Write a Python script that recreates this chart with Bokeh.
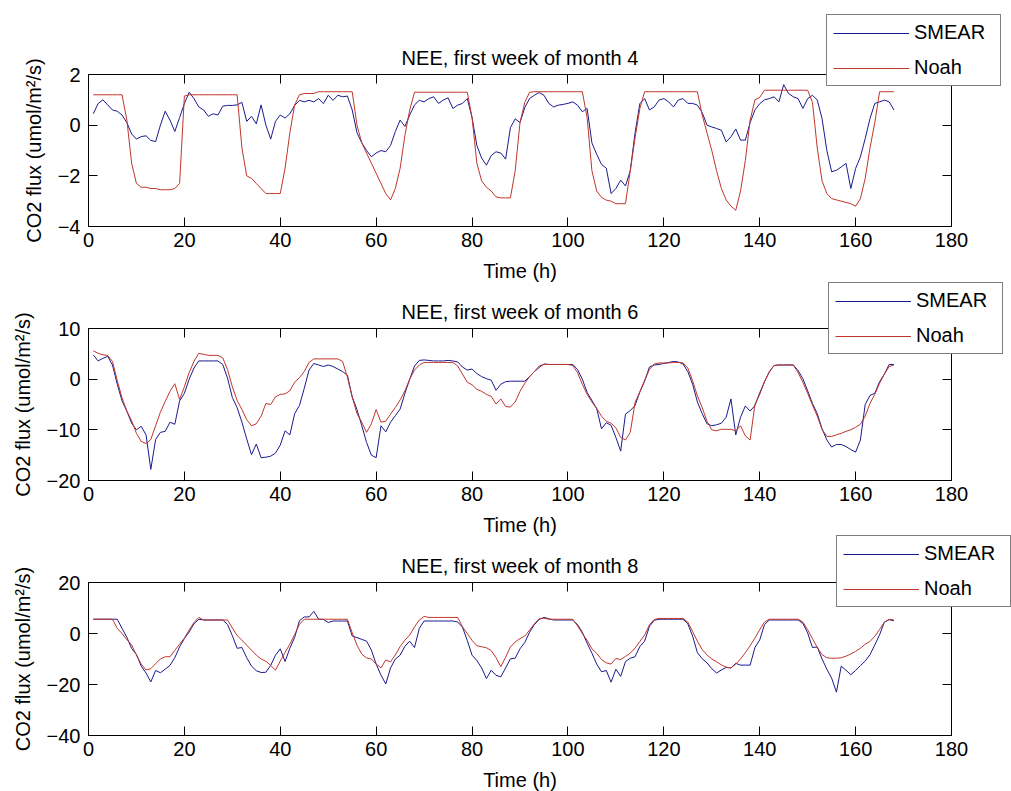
from bokeh.plotting import figure
from bokeh.models import (LinearAxis, Range1d, Legend, LegendItem, FixedTicker,
                          CustomJSTickFormatter)
from bokeh.layouts import column
from bokeh.embed import file_html
from bokeh.resources import INLINE

# ---------------- data ----------------
hours = list(range(1, 169))

smear_m4 = [
    0.45, 0.85, 1.0, 0.8, 0.6, 0.55, 0.4, 0.1, -0.35, -0.55,
    -0.45, -0.42, -0.6, -0.65, 0.0, 0.55, 0.2, -0.25, 0.3, 0.85,
    1.3, 1.05, 0.72, 0.6, 0.35, 0.45, 0.4, 0.75, 0.78, 0.78,
    0.8, 0.9, 0.15, 0.35, 0.05, 0.8, 0.0, -0.55, 0.15, 0.4,
    0.28, 0.45, 0.78, 0.98, 0.92, 0.98, 0.92, 1.05, 0.85, 1.18,
    0.98, 1.18, 1.12, 1.15, 0.6, -0.3, -0.7, -1.0, -1.25, -1.1,
    -1.0, -1.05, -0.8, -0.25, 0.2, -0.05, 0.4, 0.8, 0.98, 0.92,
    1.05, 1.12, 0.86, 0.99, 1.08, 0.66, 0.79, 0.86, 1.05, 0.3,
    -0.8, -1.3, -1.58, -1.2, -1.05, -1.1, -1.34, -0.1, 0.25, 0.1,
    0.7, 1.05, 1.18, 1.29, 1.18, 0.86, 0.72, 0.79, 0.82, 0.86,
    0.92, 0.79, 0.53, 0.66, -0.7, -1.15, -1.55, -1.7, -2.7, -2.5,
    -2.17, -2.4, -1.8, -0.3, 0.85, 1.05, 0.6, 0.72, 0.99, 1.05,
    0.92, 0.72, 0.99, 1.05, 0.86, 0.86, 0.79, 0.5, 0.0, -0.07,
    -0.13, -0.2, -0.66, -0.46, -0.15, -0.59, -0.59, 0.1, 0.6, 0.85,
    1.0, 1.05, 1.12, 0.92, 1.6, 1.25, 1.12, 1.05, 0.66, 1.05,
    1.18, 0.99, 0.26, -1.0, -1.84, -1.78, -1.65, -1.51, -2.5, -1.71,
    -1.25, -0.53, 0.26, 0.86, 0.92, 0.99, 0.92, 0.6,
]
noah_m4 = [
    1.2, 1.2, 1.2, 1.2, 1.2, 1.2, 1.2, 0.2, -1.5, -2.3,
    -2.45, -2.45, -2.5, -2.5, -2.55, -2.55, -2.55, -2.5, -2.3, 1.15,
    1.2, 1.2, 1.2, 1.2, 1.2, 1.2, 1.2, 1.2, 1.2, 1.2,
    1.2, -0.9, -2.0, -2.1, -2.3, -2.5, -2.7, -2.7, -2.7, -2.7,
    -1.7, -0.3, 0.8, 1.2, 1.25, 1.25, 1.25, 1.32, 1.32, 1.32,
    1.32, 1.32, 1.32, 1.32, 1.32, 0.0, -0.7, -1.1, -1.5, -1.9,
    -2.3, -2.7, -2.95, -2.5, -1.7, -0.4, 0.6, 1.3, 1.3, 1.3,
    1.3, 1.3, 1.3, 1.3, 1.3, 1.3, 1.3, 1.3, 1.3, 0.3,
    -1.5, -2.2, -2.45, -2.6, -2.83, -2.87, -2.87, -2.87, -1.8, 0.1,
    0.9, 1.3, 1.32, 1.32, 1.32, 1.32, 1.32, 1.32, 1.32, 1.32,
    1.32, 1.32, 1.32, 0.3, -1.8, -2.6, -2.85, -2.96, -3.0, -3.1,
    -3.1, -3.1, -1.8, -0.5, 0.66, 1.32, 1.32, 1.32, 1.32, 1.32,
    1.32, 1.32, 1.32, 1.32, 1.32, 1.32, 1.32, 0.4, -0.3, -1.0,
    -1.8, -2.5, -2.95, -3.2, -3.36, -2.6, -1.4, 0.2, 1.0, 1.1,
    1.38, 1.38, 1.38, 1.38, 1.38, 1.38, 1.38, 1.38, 1.38, 1.38,
    0.9, -0.9, -2.2, -2.7, -2.9, -2.95, -3.0, -3.05, -3.1, -3.2,
    -2.9, -2.1, -0.9, 0.1, 1.32, 1.32, 1.32, 1.32,
]

smear_m6 = [
    4.8, 3.6, 4.1, 4.5, 2.8, -1.0, -4.3, -6.3, -8.7, -10.0,
    -9.3, -11.0, -17.8, -11.9, -10.5, -10.3, -8.5, -8.9, -4.3, -2.8,
    0.0, 2.2, 3.6, 3.6, 3.6, 3.6, 3.6, 2.9, 0.2, -3.6,
    -5.6, -8.5, -11.8, -14.9, -12.8, -15.5, -15.4, -15.2, -14.6, -13.0,
    -10.2, -11.0, -6.8, -5.2, -1.8, 1.8, 3.1, 2.8, 2.5, 2.8,
    2.5, 2.0, 1.5, 0.8, -3.5, -6.0, -9.2, -12.5, -15.0, -15.5,
    -9.2, -10.4, -8.5, -7.2, -5.9, -2.8, 0.0, 2.6, 3.7, 3.8,
    3.7, 3.6, 3.6, 3.6, 3.7, 3.6, 3.4, 2.4, 1.8, 2.0,
    1.1, 0.5, 0.1, -0.2, -2.2, -1.0, -0.5, -0.4, -0.4, -0.4,
    -0.4, 0.5, 1.5, 2.3, 3.0, 2.9, 2.9, 2.9, 2.9, 2.9,
    2.9, 1.9, 0.0, -2.6, -4.2, -5.8, -9.8, -8.6, -9.1, -11.5,
    -14.2, -6.9, -6.2, -5.2, -2.5, -0.4, 2.4, 2.8, 2.9, 3.1,
    3.3, 3.5, 3.4, 3.0, 1.5, -1.0, -4.5, -6.8, -8.8, -9.2,
    -9.0, -8.7, -7.5, -3.9, -11.0, -7.5, -5.3, -6.3, -5.2, -2.7,
    -0.5, 1.4, 2.7, 2.8, 2.8, 2.8, 2.8, 1.7, 0.1, -2.3,
    -4.8, -6.8, -9.8, -12.0, -13.4, -12.9, -12.9, -13.3, -13.9, -14.4,
    -12.0, -5.0, -3.2, -2.8, -0.5, 1.0, 2.9, 2.9,
]
noah_m6 = [
    5.6, 5.1, 4.8, 4.7, 3.5, -0.3, -3.7, -6.3, -8.2, -10.7,
    -12.3, -12.7, -11.9, -9.2, -6.5, -4.4, -2.4, -0.9, -4.0, -1.5,
    1.3, 3.5, 5.1, 4.9, 4.7, 4.7, 4.7, 4.2, 1.9, -1.5,
    -4.2, -6.0, -8.0, -9.2, -8.8, -7.3, -4.8, -5.0, -3.5, -3.0,
    -2.9, -2.3, -0.6, 0.3, 1.5, 3.3, 4.0, 4.0, 4.0, 4.0,
    4.0, 4.0, 3.5, 0.4, -3.5, -6.8, -8.5, -10.5, -8.8, -6.0,
    -8.5, -8.3, -6.9, -5.6, -4.1, -2.3, 0.0, 1.8, 2.8, 3.3,
    3.3, 3.3, 3.3, 3.3, 3.3, 3.3, 2.6, 1.0, -0.6, -1.1,
    -2.0, -2.4, -3.0, -3.4, -4.9, -3.9, -5.4, -5.5, -4.5, -2.4,
    -0.8, 0.5, 1.5, 2.6, 2.9, 2.9, 2.9, 2.9, 2.9, 2.9,
    2.7, 1.3, -1.0, -3.0, -4.5, -5.8, -7.3, -8.3, -8.7, -9.6,
    -11.5, -12.0, -10.5, -4.6, -2.5, -0.2, 1.9, 3.0, 3.2, 3.2,
    3.2, 3.3, 3.3, 3.2, 2.2, -0.3, -3.3, -5.6, -8.3, -10.0,
    -10.2, -9.9, -9.9, -9.9, -10.2, -9.2, -11.2, -12.0, -5.0, -3.0,
    -0.5, 1.5, 2.7, 2.8, 2.8, 2.8, 2.8, 1.3, -0.6, -2.8,
    -5.1, -7.3, -9.9, -11.3, -11.3, -11.0, -10.7, -10.3, -10.0, -9.5,
    -8.9, -7.3, -4.8, -3.0, -0.8, 1.0, 2.5, 2.8,
]

smear_m8 = [
    5.6, 5.6, 5.6, 5.6, 5.6, 5.6, 2.0, -1.5, -5.9, -8.2,
    -12.8, -15.5, -19.0, -14.5, -15.4, -14.0, -12.5, -9.5, -5.2, -2.0,
    0.6, 3.8, 5.6, 5.3, 5.3, 5.3, 5.3, 5.3, 3.5, -0.8,
    -5.8, -5.5, -9.5, -12.8, -14.6, -15.3, -15.2, -12.5, -8.5, -6.0,
    -11.0, -5.8, -1.5, 5.0, 6.5, 6.5, 8.7, 5.6, 5.5, 4.3,
    4.9, 4.9, 4.9, 4.9, -1.0, -1.6, -2.3, -3.0, -6.5, -12.0,
    -16.3, -19.8, -13.5, -10.0, -8.5, -5.0, -3.0, -5.5, 2.0, 4.9,
    4.9, 4.9, 4.9, 4.9, 4.9, 4.9, 4.5, 2.5, -2.7, -8.5,
    -10.6, -13.5, -17.7, -14.4, -16.4, -17.0, -13.5, -9.9, -9.7, -6.0,
    -3.5, 0.5, 3.5, 5.5, 6.3, 5.8, 5.3, 5.3, 5.3, 5.3,
    5.3, 3.5, 0.5, -3.8, -7.7, -12.0, -15.0, -14.5, -19.1, -14.0,
    -16.8, -11.0, -9.7, -9.1, -5.1, -3.0, 2.8, 5.2, 5.6, 5.6,
    5.6, 5.6, 5.6, 5.6, 3.8, -1.0, -7.5, -9.9, -11.5, -13.8,
    -15.5, -14.3, -13.3, -13.5, -11.7, -12.4, -12.4, -12.4, -5.5, -2.5,
    3.5, 5.3, 5.3, 5.3, 5.3, 5.3, 5.3, 5.3, 4.0, 0.2,
    -5.5, -5.3, -10.0, -14.0, -17.5, -23.0, -12.8, -14.4, -16.2, -14.5,
    -12.6, -10.8, -8.3, -4.5, -0.5, 4.5, 5.4, 5.0,
]
noah_m8 = [
    5.6, 5.6, 5.6, 5.6, 5.6, 2.0, 0.0, -2.4, -4.5, -8.5,
    -12.0, -14.3, -13.8, -11.8, -10.0, -9.1, -9.1, -6.6, -4.2, -1.8,
    1.4, 4.3, 6.3, 5.3, 5.3, 5.3, 5.3, 5.3, 5.3, 2.2,
    -0.8, -2.6, -4.6, -6.5, -8.5, -10.0, -10.9, -12.5, -14.4, -10.8,
    -7.4, -4.2, -0.4, 3.6, 5.6, 5.6, 5.6, 5.6, 5.6, 5.6,
    5.6, 5.6, 5.6, 5.6, 0.3, -4.6, -8.1, -9.6, -10.0, -12.0,
    -13.5, -10.4, -11.1, -8.4, -5.1, -2.6, -0.6, 2.6, 5.3, 6.7,
    6.3, 6.3, 6.3, 6.3, 6.3, 6.3, 6.3, 2.6, 0.0, -2.7,
    -4.8, -5.2, -5.6, -6.7, -9.5, -13.0, -9.3, -5.3, -3.3, -2.0,
    -1.0, 1.3, 3.8, 5.8, 6.0, 5.6, 5.6, 5.6, 5.6, 5.6,
    5.6, 3.0, 0.0, -2.7, -6.0, -7.8, -10.2, -11.5, -12.0, -9.8,
    -10.2, -9.0, -7.7, -5.7, -3.1, -0.6, 3.4, 5.5, 5.9, 5.9,
    5.9, 5.9, 5.9, 5.9, 4.5, 0.8, -3.0, -6.3, -8.4, -10.0,
    -11.1, -12.3, -13.2, -13.5, -12.0, -10.0, -7.5, -4.8, -1.8, 1.5,
    4.5, 5.6, 5.6, 5.6, 5.6, 5.6, 5.6, 5.6, 4.5, 1.5,
    -2.0, -5.5, -8.3, -9.5, -9.7, -9.7, -9.5, -8.9, -8.0, -7.0,
    -5.8, -4.2, -3.1, -1.1, 1.6, 4.4, 5.6, 5.3,
]

titles = ["NEE, first week of month 4", "NEE, first week of month 6",
          "NEE, first week of month 8"]
series_names = ["SMEAR", "Noah"]
x_label = "Time (h)"
y_label = "CO2 flux (umol/m\u00b2/s)"
x_ticks = [0, 20, 40, 60, 80, 100, 120, 140, 160, 180]
y_limits = [(-4, 2), (-20, 10), (-40, 20)]
y_ticks = [[-4, -2, 0, 2], [-20, -10, 0, 10], [-40, -20, 0, 20]]

# ---------------- style ----------------
FONT = "Liberation Sans"
FS = "20px"
BLUE = "#1a1a8e"
RED = "#c0362c"


def blank_axis(ticks):
    ax = LinearAxis(ticker=FixedTicker(ticks=ticks),
                    formatter=CustomJSTickFormatter(code="return ''"))
    ax.major_label_text_font_size = "1px"
    ax.major_label_standoff = 0
    ax.major_tick_in = 9
    ax.major_tick_out = 0
    ax.minor_tick_line_color = None
    ax.axis_line_color = "black"
    ax.major_tick_line_color = "black"
    return ax


def panel(i, smear, noah, top_b, bottom_b, frame_h, leg_xy):
    p = figure(frame_width=863, frame_height=frame_h,
               x_range=Range1d(0, 180), y_range=Range1d(*y_limits[i]),
               output_backend="svg", toolbar_location=None,
               min_border_left=88, min_border_right=60,
               min_border_top=top_b, min_border_bottom=bottom_b,
               title=titles[i])
    p.title.align = "center"
    p.title.text_font = FONT
    p.title.text_font_size = FS
    p.title.text_font_style = "normal"
    p.title.text_color = "black"
    p.title.standoff = 12
    p.xgrid.visible = False
    p.ygrid.visible = False
    p.outline_line_color = "black"
    p.background_fill_color = "white"
    p.border_fill_color = "white"

    for ax, ticks in ((p.xaxis[0], x_ticks), (p.yaxis[0], y_ticks[i])):
        ax.ticker = FixedTicker(ticks=ticks)
        ax.major_tick_in = 9
        ax.major_tick_out = 0
        ax.minor_tick_line_color = None
        ax.axis_line_color = "black"
        ax.major_tick_line_color = "black"
        ax.major_label_text_font = FONT
        ax.major_label_text_font_size = FS
        ax.major_label_text_color = "black"
        ax.axis_label_text_font = FONT
        ax.axis_label_text_font_size = FS
        ax.axis_label_text_font_style = "normal"
        ax.axis_label_text_color = "black"
    p.xaxis[0].axis_label = x_label
    p.xaxis[0].major_label_standoff = 6
    p.xaxis[0].axis_label_standoff = 10
    p.yaxis[0].axis_label = y_label
    p.yaxis[0].major_label_standoff = 8
    p.yaxis[0].axis_label_standoff = 10

    p.add_layout(blank_axis(x_ticks), "above")
    p.add_layout(blank_axis(y_ticks[i]), "right")

    r1 = p.line(hours, smear, line_color=BLUE, line_width=1)
    r2 = p.line(hours, noah, line_color=RED, line_width=1)
    leg = Legend(items=[LegendItem(label=series_names[0], renderers=[r1]),
                        LegendItem(label=series_names[1], renderers=[r2])],
                 location=leg_xy)
    leg.label_text_font = FONT
    leg.label_text_font_size = FS
    leg.label_text_color = "black"
    leg.border_line_color = "black"
    leg.border_line_width = 1
    leg.background_fill_color = "white"
    leg.background_fill_alpha = 1.0
    leg.padding = 6
    leg.margin = -80
    leg.spacing = 12
    leg.glyph_width = 76
    leg.glyph_height = 20
    leg.label_height = 20
    leg.label_width = 80
    leg.label_standoff = 5
    # side panel (not clipped to the frame); negative margin keeps it from
    # widening the figure, so it can overlap the plot box like the original
    p.add_layout(leg, "right")
    return p


p1 = panel(0, smear_m4, noah_m4, 74, 56, 152, (-257, 140))
p2 = panel(1, smear_m6, noah_m6, 44, 56, 152, (-255, 126))
p3 = panel(2, smear_m8, noah_m8, 44, 56, 153, (-247, 128))

layout = column(p1, p2, p3, spacing=0)
open("out.html", "w").write(file_html(layout, INLINE))
